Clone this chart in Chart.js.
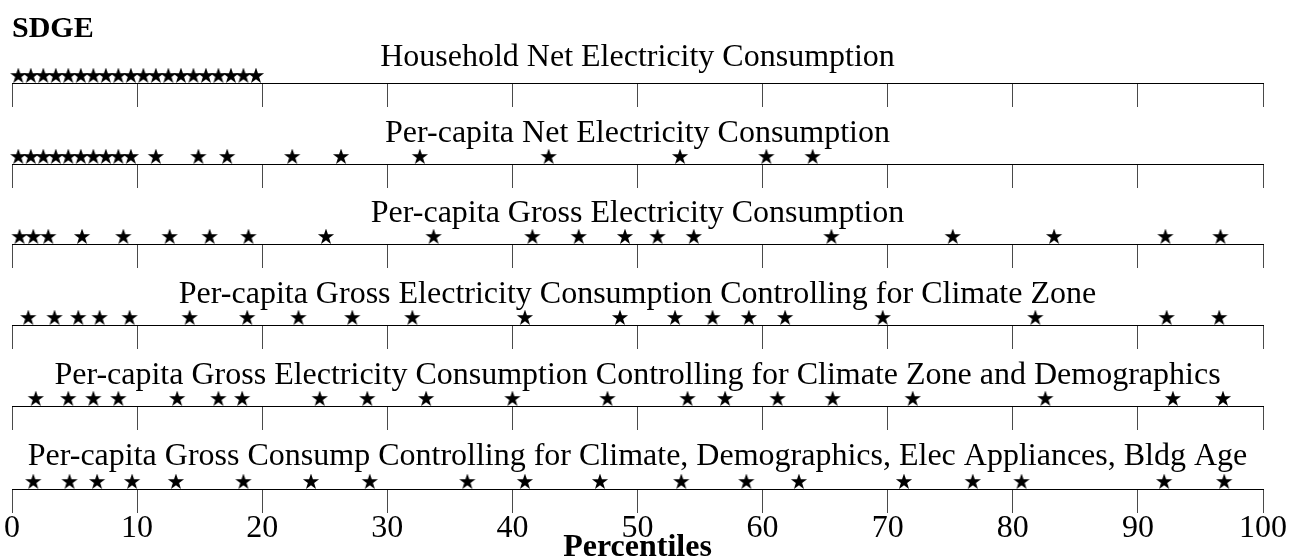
<!DOCTYPE html>
<html>
<head>
<meta charset="utf-8">
<script src="https://cdn.jsdelivr.net/npm/chart.js@4/dist/chart.umd.min.js"></script>
<style>
  html, body { margin: 0; padding: 0; background: #fff; overflow: hidden; }
  #wrap { position: relative; width: 1296px; height: 557px; }
  #wrap canvas { position: absolute; left: 0; }
</style>
</head>
<body>
<div id="wrap"></div>
<script>
// ---- data: percentile ranks of each marker, one list per row ----
const utilityName = 'SDGE';
const axisTitle = 'Percentiles';
const tickValues = [0, 10, 20, 30, 40, 50, 60, 70, 80, 90, 100];

const rowTitles = [
  'Household Net Electricity Consumption',
  'Per-capita Net Electricity Consumption',
  'Per-capita Gross Electricity Consumption',
  'Per-capita Gross Electricity Consumption Controlling for Climate Zone',
  'Per-capita Gross Electricity Consumption Controlling for Climate Zone and Demographics',
  'Per-capita Gross Consump Controlling for Climate, Demographics, Elec Appliances, Bldg Age'
];

const householdNet = [0.5, 1.5, 2.5, 3.5, 4.5, 5.5, 6.5, 7.5, 8.5, 9.5,
  10.5, 11.5, 12.5, 13.5, 14.5, 15.5, 16.5, 17.5, 18.5, 19.5];
const perCapitaNet = [0.5, 1.5, 2.5, 3.5, 4.5, 5.5, 6.5, 7.5, 8.5, 9.5,
  11.5, 14.9, 17.2, 22.4, 26.3, 32.6, 42.9, 53.4, 60.3, 64.0];
const perCapitaGross = [0.6, 1.7, 2.9, 5.6, 8.9, 12.6, 15.8, 18.9, 25.1, 33.7,
  41.6, 45.3, 49.0, 51.6, 54.5, 65.5, 75.2, 83.3, 92.2, 96.6];
const grossClimate = [1.3, 3.4, 5.3, 7.0, 9.4, 14.2, 18.8, 22.9, 27.2, 32.0,
  41.0, 48.6, 53.0, 56.0, 58.9, 61.8, 69.6, 81.8, 92.3, 96.5];
const grossClimateDemog = [1.9, 4.5, 6.5, 8.5, 13.2, 16.5, 18.4, 24.6, 28.4, 33.1,
  40.0, 47.6, 54.0, 57.0, 61.2, 65.6, 72.0, 82.6, 92.8, 96.8];
const grossFullControls = [1.7, 4.6, 6.8, 9.6, 13.1, 18.5, 23.9, 28.6, 36.4, 41.0,
  47.0, 53.5, 58.7, 62.9, 71.3, 76.8, 80.7, 92.1, 96.9];

const rowValues = [householdNet, perCapitaNet, perCapitaGross,
  grossClimate, grossClimateDemog, grossFullControls];

// ---- drawing ----
const SERIF = '"Liberation Serif", "Times New Roman", serif';
const baselines = [83, 164, 244, 325, 406, 487];   // y of each row's axis line
const TICK_LEN = 24;

// filled five-point star, drawn so that it sits on top of the data point
function makeStar() {
  const c = document.createElement('canvas');
  c.width = 18; c.height = 30;
  const g = c.getContext('2d');
  const cx = 9, cy = 8, R = 8.5, r = 3.3;
  g.beginPath();
  for (let i = 0; i < 10; i++) {
    const rad = (i % 2 === 0) ? R : r;
    const a = -Math.PI / 2 + i * Math.PI / 5;
    const px = cx + rad * Math.cos(a), py = cy + rad * Math.sin(a);
    if (i === 0) g.moveTo(px, py); else g.lineTo(px, py);
  }
  g.closePath();
  g.fillStyle = '#000';
  g.fill();
  return c;
}
const star = makeStar();

const wrap = document.getElementById('wrap');

function addCanvas(top, height) {
  const cv = document.createElement('canvas');
  cv.width = 1296; cv.height = height;
  cv.style.top = top + 'px';
  cv.style.width = '1296px'; cv.style.height = height + 'px';
  wrap.appendChild(cv);
  return cv;
}

function rowChart(idx) {
  const first = idx === 0;
  const last = idx === rowValues.length - 1;
  const line = baselines[idx];
  let top, height, titlePadTop;
  if (first) {
    top = 0; height = line + TICK_LEN; titlePadTop = 12;
  } else if (last) {
    top = line - 62 - 80; height = 62 + 80 + 78; titlePadTop = 14 + 80;
  } else {
    top = line - 62; height = 62 + TICK_LEN; titlePadTop = 14;
  }
  const cv = addCanvas(top, height);

  const rowFont = { family: SERIF, size: 32, weight: 'normal', lineHeight: '36px' };
  const plugins = {
    legend: { display: false },
    tooltip: { enabled: false }
  };
  if (first) {
    plugins.title = {
      display: true, text: utilityName, align: 'start', color: '#000',
      font: { family: SERIF, size: 30, weight: 'bold', lineHeight: '34px' },
      padding: { top: titlePadTop, bottom: 0 }
    };
    plugins.subtitle = {
      display: true, text: rowTitles[idx], color: '#000',
      font: rowFont, padding: { top: -6, bottom: 0 }
    };
  } else {
    plugins.title = {
      display: true, text: rowTitles[idx], color: '#000',
      font: rowFont, padding: { top: titlePadTop, bottom: 0 }
    };
  }

  new Chart(cv, {
    type: 'scatter',
    data: {
      datasets: [{
        data: rowValues[idx].map(v => ({ x: v, y: 0 })),
        pointStyle: star,
        pointRadius: 8,
        showLine: false,
        clip: false
      }]
    },
    options: {
      responsive: false,
      animation: false,
      events: [],
      layout: { padding: { left: 12, right: 33, top: 0, bottom: 0 } },
      plugins,
      scales: {
        x: {
          type: 'linear', position: 'bottom', min: 0, max: 100,
          afterBuildTicks: s => { s.ticks = tickValues.map(v => ({ value: v })); },
          grid: {
            display: true, drawOnChartArea: false, drawTicks: true,
            tickLength: TICK_LEN, color: '#4a4a4a', lineWidth: 1
          },
          border: { display: true, color: '#000', width: 1 },
          ticks: {
            display: last, autoSkip: false, maxRotation: 0, padding: -2,
            color: '#000', font: rowFont
          },
          title: {
            display: last, text: axisTitle, color: '#000',
            font: { family: SERIF, size: 32, weight: 'bold', lineHeight: '36px' },
            padding: { top: -15, bottom: -1 }
          }
        },
        y: { display: false, min: 0, max: 1 }
      }
    }
  });
}

rowValues.forEach((_, i) => rowChart(i));
</script>
</body>
</html>
